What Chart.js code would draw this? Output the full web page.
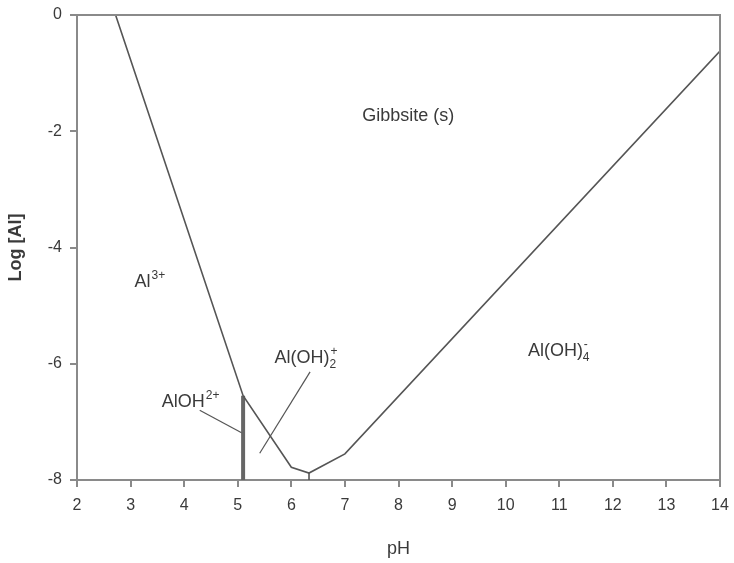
<!DOCTYPE html>
<html>
<head>
<meta charset="utf-8">
<script src="https://cdn.jsdelivr.net/npm/chart.js@4"></script>
<style>
  html, body { margin: 0; padding: 0; background: #fff; }
  #wrap { width: 734px; height: 563px; }
</style>
</head>
<body>
<div id="wrap"><canvas id="diagram"></canvas></div>
<script>
// boundary of the gibbsite solubility field (pH, log [Al])
const boundaryPH  = [2.72, 5.10, 6.00, 6.33, 7.00, 14.0];
const boundaryLog = [0.00, -6.55, -7.78, -7.88, -7.55, -0.62];

// AlOH2+ field (thin band at pH 5.1) and the minimum marker
const bandPH  = [5.10, 5.10];
const bandLog = [-8.00, -6.55];
const minPH   = [6.33, 6.33];
const minLog  = [-7.88, -8.00];

// leader lines for the two small-field labels
const leaderAlOHPH  = [4.29, 5.08];
const leaderAlOHLog = [-6.80, -7.19];
const leaderAlOH2PH  = [6.35, 5.41];
const leaderAlOH2Log = [-6.14, -7.54];

// region labels (centre x, baseline y); parts are [text, 'n' | 'sup' | 'sub']
const labelPH  = [8.18, 3.35, 4.11, 6.26, 10.99];
const labelLog = [-1.82, -4.68, -6.74, -5.99, -5.87];
const labelParts = [
  [['Gibbsite (s)', 'n']],
  [['Al', 'n'], ['3+', 'sup']],
  [['AlOH', 'n'], ['2+', 'sup']],
  [['Al(OH)', 'n'], ['2', 'sub'], ['+', 'sup']],
  [['Al(OH)', 'n'], ['4', 'sub'], ['-', 'sup']]
];

const xTicks = [2, 3, 4, 5, 6, 7, 8, 9, 10, 11, 12, 13, 14];
const yTicks = [0, -2, -4, -6, -8];

const pts = (xs, ys) => xs.map((x, i) => ({ x: x, y: ys[i] }));

const lineColor = '#555';
const axisColor = '#8a8a8a';
const textColor = '#3a3a3a';
const font = '"Liberation Sans", Arial, sans-serif';
const mainSize = 18, smallSize = 12;

function line(data, width, color) {
  return {
    data: data,
    showLine: true,
    borderColor: color || lineColor,
    borderWidth: width,
    pointRadius: 0,
    fill: false,
    tension: 0
  };
}

const labelPlugin = {
  id: 'regionLabels',
  afterDatasetsDraw(chart) {
    const c = chart.ctx;
    const xs = chart.scales.x, ys = chart.scales.y;
    c.save();
    c.fillStyle = textColor;
    c.textBaseline = 'alphabetic';
    labelParts.forEach((parts, i) => {
      // width of the label, a superscript over a subscript takes no extra room
      let total = 0;
      parts.forEach((p, k) => {
        c.font = (p[1] === 'n' ? mainSize : smallSize) + 'px ' + font;
        const stacked = p[1] === 'sup' && k > 0 && parts[k - 1][1] === 'sub';
        if (!stacked) total += c.measureText(p[0]).width;
      });
      let x = xs.getPixelForValue(labelPH[i]) - total / 2;
      const y = ys.getPixelForValue(labelLog[i]);
      let lastW = 0;
      parts.forEach((p, k) => {
        c.font = (p[1] === 'n' ? mainSize : smallSize) + 'px ' + font;
        const w = c.measureText(p[0]).width;
        if (p[1] === 'n') {
          c.fillText(p[0], x, y);
          x += w;
        } else if (p[1] === 'sub') {
          c.fillText(p[0], x, y + 5);
          x += w; lastW = w;
        } else {
          const stacked = k > 0 && parts[k - 1][1] === 'sub';
          const sx = stacked ? x - lastW + 1 : x + 1;
          c.fillText(p[0], sx, y - 8);
          if (!stacked) x += w;
        }
      });
    });
    // frame on top and right
    const a = chart.chartArea;
    c.strokeStyle = axisColor;
    c.lineWidth = 2;
    c.beginPath();
    c.moveTo(a.left, a.top);
    c.lineTo(a.right, a.top);
    c.lineTo(a.right, a.bottom);
    c.stroke();
    c.restore();
  }
};

new Chart(document.getElementById('diagram'), {
  type: 'scatter',
  data: {
    datasets: [
      line(pts(boundaryPH, boundaryLog), 1.6),
      line(pts(bandPH, bandLog), 4, '#666'),
      line(pts(minPH, minLog), 1.6),
      line(pts(leaderAlOHPH, leaderAlOHLog), 1.2),
      line(pts(leaderAlOH2PH, leaderAlOH2Log), 1.2)
    ]
  },
  options: {
    responsive: true,
    maintainAspectRatio: false,
    animation: false,
    layout: { padding: { top: 15, right: 14, left: 0, bottom: 0 } },
    plugins: {
      legend: { display: false },
      tooltip: { enabled: false }
    },
    scales: {
      x: {
        type: 'linear',
        min: 2,
        max: 14,
        afterBuildTicks: s => { s.ticks = xTicks.map(v => ({ value: v })); },
        afterFit: s => { s.height = 83; s.paddingLeft = 0; s.paddingRight = 0; },
        ticks: { color: textColor, font: { family: font, size: 16 }, padding: 9, maxRotation: 0 },
        grid: { display: true, drawOnChartArea: false, drawTicks: true, tickLength: 7, color: axisColor, lineWidth: 2 },
        border: { display: true, color: axisColor, width: 2 },
        title: { display: true, text: 'pH', color: textColor, font: { family: font, size: 18 }, padding: { top: 0, bottom: 3 } }
      },
      y: {
        type: 'linear',
        min: -8,
        max: 0,
        afterBuildTicks: s => { s.ticks = yTicks.map(v => ({ value: v })); },
        afterFit: s => { s.width = 77; s.paddingTop = 0; s.paddingBottom = 0; },
        ticks: { color: textColor, font: { family: font, size: 16 }, padding: 8 },
        grid: { display: true, drawOnChartArea: false, drawTicks: true, tickLength: 7, color: axisColor, lineWidth: 2 },
        border: { display: true, color: axisColor, width: 2 },
        title: { display: true, text: 'Log [Al]', color: textColor, font: { family: font, size: 18, weight: 'bold' }, padding: { top: 5, bottom: 0 } }
      }
    }
  },
  plugins: [labelPlugin]
});
</script>
</body>
</html>
